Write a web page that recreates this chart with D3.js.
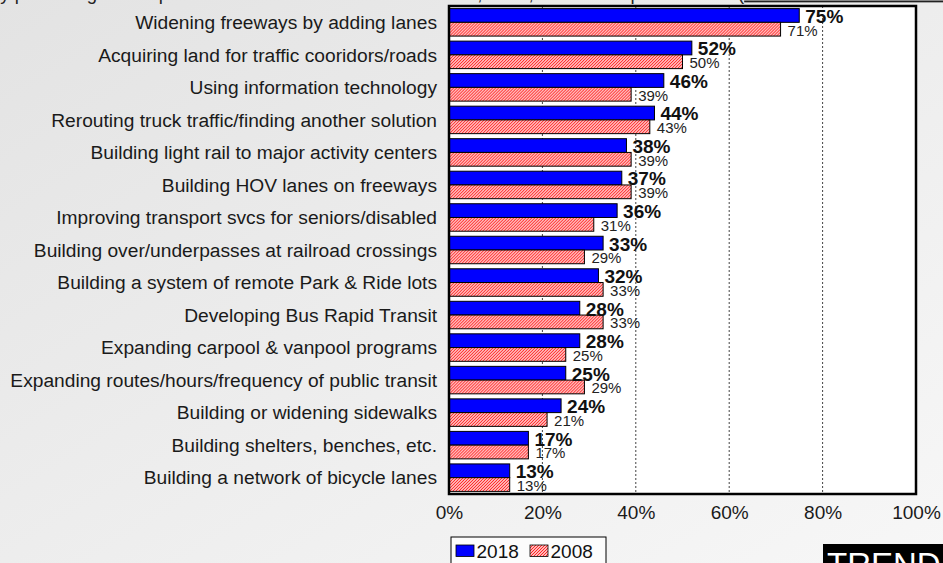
<!DOCTYPE html>
<html>
<head>
<meta charset="utf-8">
<script src="https://cdn.jsdelivr.net/npm/d3@7"></script>
<style>
  html, body { margin: 0; padding: 0; overflow: hidden; }
  svg { display: block; font-family: "Liberation Sans", Arial, sans-serif; }
</style>
</head>
<body>
<svg id="chart" width="943" height="563"></svg>
<script>
const categories = [
  "Widening freeways by adding lanes",
  "Acquiring land for traffic cooridors/roads",
  "Using information technology",
  "Rerouting truck traffic/finding another solution",
  "Building light rail to major activity centers",
  "Building HOV lanes on freeways",
  "Improving transport svcs for seniors/disabled",
  "Building over/underpasses at railroad crossings",
  "Building a system of remote Park & Ride lots",
  "Developing Bus Rapid Transit",
  "Expanding carpool & vanpool programs",
  "Expanding routes/hours/frequency of public transit",
  "Building or widening sidewalks",
  "Building shelters, benches, etc.",
  "Building a network of bicycle lanes"
];
const values2018 = [75, 52, 46, 44, 38, 37, 36, 33, 32, 28, 28, 25, 24, 17, 13];
const values2008 = [71, 50, 39, 43, 39, 39, 31, 29, 33, 33, 25, 29, 21, 17, 13];
const seriesNames = ["2018", "2008"];
const tickValues = [0, 20, 40, 60, 80, 100];

const svg = d3.select("#chart");
const W = 943, H = 563;
const plot = { left: 449, right: 916, top: 6, bottom: 494 };

const defs = svg.append("defs");
const bg = defs.append("linearGradient")
  .attr("id", "bg").attr("x1", 0).attr("y1", 0).attr("x2", 1).attr("y2", 1);
bg.append("stop").attr("offset", "0%").attr("stop-color", "#e3e3e3");
bg.append("stop").attr("offset", "100%").attr("stop-color", "#f7f7f7");

const hatch = defs.append("pattern")
  .attr("id", "hatch").attr("patternUnits", "userSpaceOnUse")
  .attr("width", 3).attr("height", 3);
hatch.append("rect").attr("width", 3).attr("height", 3).attr("fill", "#fff");
hatch.append("path")
  .attr("d", "M-1,1 l2,-2 M0,3 l3,-3 M2,4 l2,-2")
  .attr("stroke", "#ff1a1a").attr("stroke-width", 1.2);

svg.append("rect").attr("width", W).attr("height", H).attr("fill", "url(#bg)");

// title, mostly cut off at the top edge
const title = svg.append("g")
  .attr("font-size", 18.5).attr("fill", "#222");
title.append("text").attr("x", -10).attr("y", -0.5)
  .text("by percentage of respondents who rated it as the most crucial in");
title.append("text").attr("x", 436).attr("y", -0.5)
  .text("2018, 2008, and as a top choice");
const t2 = title.append("text").attr("x", 738).attr("y", -0.5);
t2.append("tspan").text("(");
t2.append("tspan").attr("text-decoration", "underline").text("most needed first 2018 list");
t2.append("tspan").text(")");

const x = d3.scaleLinear().domain([0, 100]).range([plot.left, plot.right]);
const y = d3.scaleBand().domain(categories)
  .range([plot.top, plot.bottom]).paddingInner(0.155).paddingOuter(0.08);
const ySub = d3.scaleBand().domain(seriesNames).range([0, y.bandwidth()]);

svg.append("rect")
  .attr("x", plot.left).attr("y", plot.top)
  .attr("width", plot.right - plot.left).attr("height", plot.bottom - plot.top)
  .attr("fill", "#fff");

// dotted gridlines
svg.append("g")
  .selectAll("line")
  .data(tickValues.slice(1, -1))
  .join("line")
  .attr("x1", d => x(d)).attr("x2", d => x(d))
  .attr("y1", plot.top).attr("y2", plot.bottom)
  .attr("stroke", "#444").attr("stroke-width", 1)
  .attr("stroke-dasharray", "2,2");

const rows = categories.map((c, i) => ({ cat: c, v18: values2018[i], v08: values2008[i] }));

const row = svg.append("g").selectAll("g")
  .data(rows)
  .join("g")
  .attr("transform", d => `translate(0,${y(d.cat)})`);

row.append("rect")
  .attr("x", x(0)).attr("y", ySub("2018"))
  .attr("width", d => x(d.v18) - x(0)).attr("height", ySub.bandwidth())
  .attr("fill", "#0000ff").attr("stroke", "#000").attr("stroke-width", 1);

row.append("rect")
  .attr("x", x(0)).attr("y", ySub("2008"))
  .attr("width", d => x(d.v08) - x(0)).attr("height", ySub.bandwidth())
  .attr("fill", "url(#hatch)").attr("stroke", "#000").attr("stroke-width", 1);

row.append("text")
  .attr("x", d => x(d.v18) + 6)
  .attr("y", ySub("2018") + ySub.bandwidth() + 0.5)
  .attr("font-size", 19).attr("font-weight", "bold").attr("fill", "#111")
  .text(d => d.v18 + "%");

row.append("text")
  .attr("x", d => x(d.v08) + 7)
  .attr("y", ySub("2008") + ySub.bandwidth() - 0.5)
  .attr("font-size", 15).attr("fill", "#222")
  .text(d => d.v08 + "%");

// category labels
svg.append("g")
  .selectAll("text")
  .data(categories)
  .join("text")
  .attr("x", 437)
  .attr("y", d => y(d) + y.bandwidth() / 2)
  .attr("dy", "0.35em")
  .attr("text-anchor", "end")
  .attr("font-size", 19.2).attr("fill", "#1a1a1a")
  .text(d => d);

// plot border
svg.append("rect")
  .attr("x", plot.left).attr("y", plot.top)
  .attr("width", plot.right - plot.left).attr("height", plot.bottom - plot.top)
  .attr("fill", "none").attr("stroke", "#000").attr("stroke-width", 2.5);

// x axis labels
const xAxis = svg.append("g")
  .attr("transform", `translate(0,${plot.bottom})`)
  .call(d3.axisBottom(x).tickValues(tickValues).tickFormat(d => d + "%").tickSize(0).tickPadding(12));
xAxis.select(".domain").remove();
xAxis.selectAll("text")
  .attr("font-size", 19).attr("fill", "#1a1a1a")
  .attr("font-family", "\"Liberation Sans\", Arial, sans-serif");

// legend
const legend = svg.append("g").attr("transform", "translate(451,537)");
legend.append("rect").attr("width", 155).attr("height", 40)
  .attr("fill", "#fcfcfc").attr("stroke", "#000").attr("stroke-width", 1);
const legendItems = legend.selectAll("g")
  .data(seriesNames)
  .join("g")
  .attr("transform", (d, i) => `translate(${5 + i * 74},8)`);
legendItems.append("rect")
  .attr("width", 18).attr("height", 11.5)
  .attr("fill", d => d === "2018" ? "#0000ff" : "url(#hatch)")
  .attr("stroke", "#000").attr("stroke-width", 0.8);
legendItems.append("text")
  .attr("x", 20.5).attr("y", 12.5)
  .attr("font-size", 19).attr("fill", "#111")
  .text(d => d);

// brand tag, cut off at the bottom edge
svg.append("rect").attr("x", 823).attr("y", 544).attr("width", 130).attr("height", 30).attr("fill", "#000");
svg.append("text").attr("x", 827).attr("y", 576)
  .attr("font-size", 33).attr("fill", "#fff")
  .text("TREND");
</script>
</body>
</html>
